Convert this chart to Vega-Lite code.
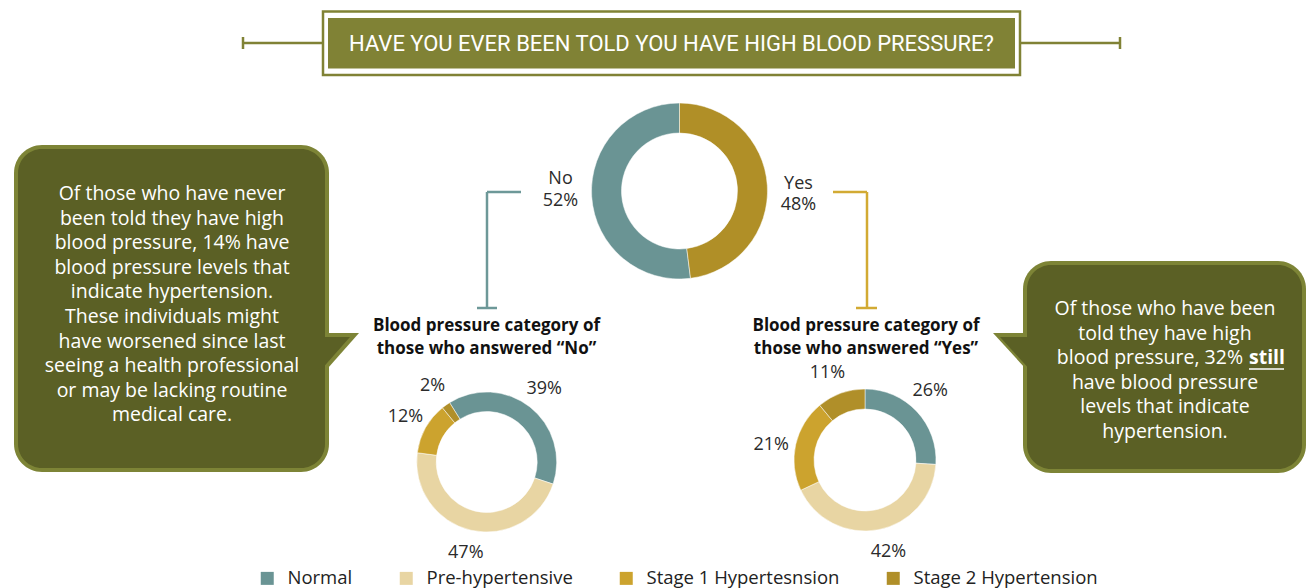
{
  "$schema": "https://vega.github.io/schema/vega-lite/v6.json",
  "width": 1307,
  "height": 588,
  "autosize": {"type": "none"},
  "padding": 0,
  "background": "white",
  "config": {"view": {"stroke": null}, "font": "Open Sans"},
  "data": {"values": [{"note": "annotation"}]},
  "datasets": {
    "overall": [
      {"answer": "No", "share": 0.52},
      {"answer": "Yes", "share": 0.48}
    ],
    "breakdown": [
      {"answered": "No", "category": "Normal", "share": 0.39},
      {"answered": "No", "category": "Pre-hypertensive", "share": 0.47},
      {"answered": "No", "category": "Stage 1 Hypertesnsion", "share": 0.12},
      {"answered": "No", "category": "Stage 2 Hypertension", "share": 0.02},
      {"answered": "Yes", "category": "Normal", "share": 0.26},
      {"answered": "Yes", "category": "Pre-hypertensive", "share": 0.42},
      {"answered": "Yes", "category": "Stage 1 Hypertesnsion", "share": 0.21},
      {"answered": "Yes", "category": "Stage 2 Hypertension", "share": 0.11}
    ]
  },
  "resolve": {"scale": {"theta": "independent", "color": "independent"}},
  "layer": [
    {"mark": {"type": "rule", "color": "#808235", "strokeWidth": 2.5},
     "encoding": {"x": {"value": 243}, "x2": {"value": 323}, "y": {"value": 43}, "y2": {"value": 43}}},
    {"mark": {"type": "rule", "color": "#808235", "strokeWidth": 2.5},
     "encoding": {"x": {"value": 243}, "x2": {"value": 243}, "y": {"value": 37}, "y2": {"value": 49}}},
    {"mark": {"type": "rule", "color": "#808235", "strokeWidth": 2.5},
     "encoding": {"x": {"value": 1020}, "x2": {"value": 1120}, "y": {"value": 43}, "y2": {"value": 43}}},
    {"mark": {"type": "rule", "color": "#808235", "strokeWidth": 2.5},
     "encoding": {"x": {"value": 1120}, "x2": {"value": 1120}, "y": {"value": 37}, "y2": {"value": 49}}},
    {"mark": {"type": "rect", "fill": "white", "stroke": "#808235", "strokeWidth": 2.5},
     "encoding": {"x": {"value": 323}, "x2": {"value": 1020}, "y": {"value": 11.5}, "y2": {"value": 75}}},
    {"mark": {"type": "rect", "fill": "#808235"},
     "encoding": {"x": {"value": 328}, "x2": {"value": 1015}, "y": {"value": 18}, "y2": {"value": 68.5}}},
    {"mark": {"type": "text", "text": "HAVE YOU EVER BEEN TOLD YOU HAVE HIGH BLOOD PRESSURE?", "font": "Roboto", "fontSize": 22, "color": "white", "align": "center", "baseline": "middle"},
     "encoding": {"x": {"value": 671.5}, "y": {"value": 44}}},

    {"mark": {"type": "rect", "fill": "#7d8436", "cornerRadius": 28},
     "encoding": {"x": {"value": 14}, "x2": {"value": 329}, "y": {"value": 145}, "y2": {"value": 472}}},
    {"mark": {"type": "point", "shape": "M-0.68,-0.68L0.96,-0.68L-0.28,0.72L-0.68,0.72Z", "filled": true, "size": 2500, "color": "#7d8436", "opacity": 1, "strokeWidth": 0},
     "encoding": {"x": {"value": 335}, "y": {"value": 350}}},
    {"mark": {"type": "rect", "fill": "#5b6025", "cornerRadius": 24},
     "encoding": {"x": {"value": 18}, "x2": {"value": 325}, "y": {"value": 149}, "y2": {"value": 468}}},
    {"mark": {"type": "point", "shape": "M-0.68,-0.52L0.6,-0.52L-0.52,0.748L-0.68,0.748Z", "filled": true, "size": 2500, "color": "#5b6025", "opacity": 1, "strokeWidth": 0},
     "encoding": {"x": {"value": 335}, "y": {"value": 350}}},
    {"mark": {"type": "text", "text": ["Of those who have never", "been told they have high", "blood pressure, 14% have", "blood pressure levels that", "indicate hypertension.", "These individuals might", "have worsened since last", "seeing a health professional", "or may be lacking routine", "medical care."], "fontSize": 19.5, "lineHeight": 24.6, "color": "white", "align": "center", "baseline": "middle"},
     "encoding": {"x": {"value": 172}, "y": {"value": 194}}},

    {"mark": {"type": "rect", "fill": "#7d8436", "cornerRadius": 28},
     "encoding": {"x": {"value": 1023}, "x2": {"value": 1306}, "y": {"value": 261}, "y2": {"value": 473}}},
    {"mark": {"type": "point", "shape": "M0.72,-0.68L-0.96,-0.68L0.32,0.72L0.72,0.72Z", "filled": true, "size": 2500, "color": "#7d8436", "opacity": 1, "strokeWidth": 0},
     "encoding": {"x": {"value": 1017}, "y": {"value": 350}}},
    {"mark": {"type": "rect", "fill": "#5b6025", "cornerRadius": 24},
     "encoding": {"x": {"value": 1027}, "x2": {"value": 1302}, "y": {"value": 265}, "y2": {"value": 469}}},
    {"mark": {"type": "point", "shape": "M0.64,-0.52L-0.68,-0.52L0.48,0.748L0.64,0.748Z", "filled": true, "size": 2500, "color": "#5b6025", "opacity": 1, "strokeWidth": 0},
     "encoding": {"x": {"value": 1017}, "y": {"value": 350}}},
    {"mark": {"type": "text", "text": ["Of those who have been", "told they have high"], "fontSize": 19.5, "lineHeight": 24.6, "color": "white", "align": "center", "baseline": "middle"},
     "encoding": {"x": {"value": 1165}, "y": {"value": 309}}},
    {"mark": {"type": "text", "text": "blood pressure, 32%", "fontSize": 19.5, "color": "white", "align": "right", "baseline": "middle"},
     "encoding": {"x": {"value": 1243}, "y": {"value": 358}}},
    {"mark": {"type": "text", "text": "still", "fontSize": 19.5, "fontWeight": "bold", "color": "white", "align": "left", "baseline": "middle"},
     "encoding": {"x": {"value": 1249}, "y": {"value": 358}}},
    {"mark": {"type": "rule", "color": "white", "strokeWidth": 1.5},
     "encoding": {"x": {"value": 1249}, "x2": {"value": 1284}, "y": {"value": 369}, "y2": {"value": 369}}},
    {"mark": {"type": "text", "text": ["have blood pressure", "levels that indicate", "hypertension."], "fontSize": 19.5, "lineHeight": 24.6, "color": "white", "align": "center", "baseline": "middle"},
     "encoding": {"x": {"value": 1165}, "y": {"value": 382.5}}},

    {"mark": {"type": "rule", "color": "#6d9898", "strokeWidth": 2.5},
     "encoding": {"x": {"value": 487}, "x2": {"value": 521}, "y": {"value": 192}, "y2": {"value": 192}}},
    {"mark": {"type": "rule", "color": "#6d9898", "strokeWidth": 2.5},
     "encoding": {"x": {"value": 487}, "x2": {"value": 487}, "y": {"value": 192}, "y2": {"value": 308}}},
    {"mark": {"type": "rule", "color": "#6d9898", "strokeWidth": 2.5},
     "encoding": {"x": {"value": 477}, "x2": {"value": 497}, "y": {"value": 308}, "y2": {"value": 308}}},
    {"mark": {"type": "rule", "color": "#d2aa33", "strokeWidth": 2.5},
     "encoding": {"x": {"value": 833}, "x2": {"value": 867}, "y": {"value": 192}, "y2": {"value": 192}}},
    {"mark": {"type": "rule", "color": "#d2aa33", "strokeWidth": 2.5},
     "encoding": {"x": {"value": 867}, "x2": {"value": 867}, "y": {"value": 192}, "y2": {"value": 308}}},
    {"mark": {"type": "rule", "color": "#d2aa33", "strokeWidth": 2.5},
     "encoding": {"x": {"value": 856}, "x2": {"value": 877}, "y": {"value": 308}, "y2": {"value": 308}}},

    {"data": {"name": "overall"},
     "mark": {"type": "arc", "outerRadius": 88, "innerRadius": 58, "stroke": "white", "strokeWidth": 0.5},
     "encoding": {
       "x": {"value": 679.5}, "y": {"value": 191},
       "theta": {"field": "share", "type": "quantitative", "stack": true, "scale": {"domain": [0, 1], "range": [0, 6.2832]}},
       "order": {"field": "answer", "sort": "descending"},
       "color": {"field": "answer", "type": "nominal", "scale": {"domain": ["No", "Yes"], "range": ["#6a9494", "#b08f27"]}, "legend": null}
     }},
    {"data": {"name": "overall"},
     "mark": {"type": "text", "radius": 119, "fontSize": 18, "color": "#2b2b2b", "dy": -9.5},
     "encoding": {
       "x": {"value": 679.5}, "y": {"value": 191},
       "theta": {"field": "share", "type": "quantitative", "stack": true, "scale": {"domain": [0, 1], "range": [0.08, 6.3632]}},
       "order": {"field": "answer", "sort": "descending"},
       "detail": {"field": "answer"},
       "text": {"field": "answer"}
     }},
    {"data": {"name": "overall"},
     "mark": {"type": "text", "radius": 119, "fontSize": 18, "color": "#2b2b2b", "dy": 12},
     "encoding": {
       "x": {"value": 679.5}, "y": {"value": 191},
       "theta": {"field": "share", "type": "quantitative", "stack": true, "scale": {"domain": [0, 1], "range": [0.08, 6.3632]}},
       "order": {"field": "answer", "sort": "descending"},
       "detail": {"field": "answer"},
       "text": {"field": "share", "format": ".0%"}
     }},

    {"mark": {"type": "text", "text": ["Blood pressure category of", "those who answered “No”"], "fontSize": 17, "fontWeight": "bold", "lineHeight": 23, "color": "#111", "align": "center", "baseline": "middle"},
     "encoding": {"x": {"value": 486.5}, "y": {"value": 326}}},
    {"mark": {"type": "text", "text": ["Blood pressure category of", "those who answered “Yes”"], "fontSize": 17, "fontWeight": "bold", "lineHeight": 23, "color": "#111", "align": "center", "baseline": "middle"},
     "encoding": {"x": {"value": 866}, "y": {"value": 326}}},

    {"data": {"name": "breakdown"},
     "transform": [{"filter": "datum.answered === 'No'"}],
     "mark": {"type": "arc", "outerRadius": 70, "innerRadius": 50.5, "stroke": "white", "strokeWidth": 0.5},
     "encoding": {
       "x": {"value": 486.7}, "y": {"value": 462},
       "theta": {"field": "share", "type": "quantitative", "stack": true, "scale": {"domain": [0, 1], "range": [-0.5585, 5.7247]}},
       "order": {"field": "category", "sort": "ascending"},
       "color": {"field": "category", "type": "nominal",
         "scale": {"domain": ["Normal", "Pre-hypertensive", "Stage 1 Hypertesnsion", "Stage 2 Hypertension"], "range": ["#6a9494", "#e8d5a3", "#cca32e", "#b08f29"]},
         "legend": {"title": null, "orient": "none", "legendX": 258, "legendY": 569, "direction": "horizontal", "columns": 4, "columnPadding": 44, "symbolType": "square", "symbolSize": 169, "symbolStrokeWidth": 0, "symbolOpacity": 1, "labelFontSize": 18.5, "labelFont": "Open Sans", "labelColor": "#222", "labelOffset": 11, "padding": 0, "labelLimit": 400}}
     }},
    {"data": {"name": "breakdown"},
     "transform": [{"filter": "datum.answered === 'No'"}],
     "mark": {"type": "text", "radius": 93, "fontSize": 18, "color": "#2b2b2b"},
     "encoding": {
       "x": {"value": 486.7}, "y": {"value": 462},
       "theta": {"field": "share", "type": "quantitative", "stack": true, "scale": {"domain": [0, 1], "range": [-0.5585, 5.7247]}},
       "order": {"field": "category", "sort": "ascending"},
       "detail": {"field": "category"},
       "text": {"field": "share", "format": ".0%"}
     }},

    {"data": {"name": "breakdown"},
     "transform": [{"filter": "datum.answered === 'Yes'"}],
     "mark": {"type": "arc", "outerRadius": 71, "innerRadius": 51, "stroke": "white", "strokeWidth": 0.5},
     "encoding": {
       "x": {"value": 865}, "y": {"value": 460},
       "theta": {"field": "share", "type": "quantitative", "stack": true, "scale": {"domain": [0, 1], "range": [0, 6.2832]}},
       "order": {"field": "category", "sort": "ascending"},
       "color": {"field": "category", "type": "nominal",
         "scale": {"domain": ["Normal", "Pre-hypertensive", "Stage 1 Hypertesnsion", "Stage 2 Hypertension"], "range": ["#6a9494", "#e8d5a3", "#cca32e", "#b08f29"]},
         "legend": null}
     }},
    {"data": {"name": "breakdown"},
     "transform": [{"filter": "datum.answered === 'Yes'"}],
     "mark": {"type": "text", "radius": 95, "fontSize": 18, "color": "#2b2b2b"},
     "encoding": {
       "x": {"value": 865}, "y": {"value": 460},
       "theta": {"field": "share", "type": "quantitative", "stack": true, "scale": {"domain": [0, 1], "range": [-0.06, 6.2232]}},
       "order": {"field": "category", "sort": "ascending"},
       "detail": {"field": "category"},
       "text": {"field": "share", "format": ".0%"}
     }}
  ]
}
